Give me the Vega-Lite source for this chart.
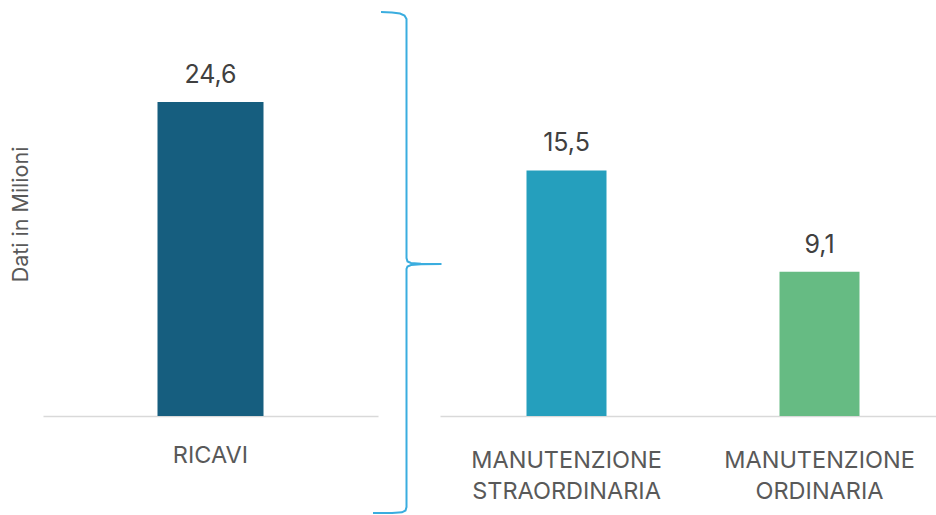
{
  "$schema": "https://vega.github.io/schema/vega-lite/v6.json",
  "padding": {"left": 10, "top": 8, "right": 0, "bottom": 0},
  "spacing": 0,
  "bounds": "flush",
  "config": {
    "view": {"stroke": null},
    "font": "Inter",
    "locale": {"number": {"decimal": ",", "thousands": ".", "grouping": [3], "currency": ["€", ""]}},
    "axis": {"domainColor": "#d9d9d9", "domainWidth": 1.5, "ticks": false, "grid": false, "labelColor": "#595959", "labelFont": "Inter", "labelFontSize": 23.5, "labelLimit": 400, "titleFont": "Inter", "titleFontWeight": "normal", "titleColor": "#595959"}
  },
  "hconcat": [
    {
      "width": 335,
      "height": 404,
      "data": {"values": [{"voce": "RICAVI", "valore": 24.6}]},
      "encoding": {
        "x": {"field": "voce", "type": "nominal", "axis": {"title": null, "labelAngle": 0, "labelPadding": 27, "labelBaseline": "top"}},
        "y": {"field": "valore", "type": "quantitative", "scale": {"domain": [0, 31.66], "nice": false}, "axis": {"title": "Dati in Milioni", "titleFontSize": 21.5, "titlePadding": 11, "labels": false, "domain": false}}
      },
      "layer": [
        {"mark": {"type": "bar", "size": 106, "color": "#165e7f"}},
        {"mark": {"type": "text", "baseline": "alphabetic", "dy": -19, "fontSize": 25, "color": "#404040"}, "encoding": {"text": {"field": "valore", "type": "quantitative", "format": ".1f"}}}
      ]
    },
    {
      "width": 62,
      "height": 501,
      "data": {"values": [
        {"i": 1, "x": 3, "y": 0},
        {"i": 2, "x": 14, "y": 0.5},
        {"i": 3, "x": 22, "y": 1.5},
        {"i": 4, "x": 26.5, "y": 3.5},
        {"i": 5, "x": 28.5, "y": 7},
        {"i": 6, "x": 28.5, "y": 246},
        {"i": 7, "x": 29.5, "y": 249.5},
        {"i": 8, "x": 33, "y": 251},
        {"i": 9, "x": 43, "y": 251.7},
        {"i": 10, "x": 63.5, "y": 252},
        {"i": 11, "x": 43, "y": 252.3},
        {"i": 12, "x": 33, "y": 253},
        {"i": 13, "x": 29.5, "y": 254.5},
        {"i": 14, "x": 28.5, "y": 257},
        {"i": 15, "x": 28.5, "y": 495},
        {"i": 16, "x": 27.5, "y": 498.5},
        {"i": 17, "x": 24, "y": 500.3},
        {"i": 18, "x": 14, "y": 501},
        {"i": 19, "x": -5, "y": 501}
      ]},
      "mark": {"type": "line", "color": "#3aaddf", "strokeWidth": 2, "clip": false},
      "encoding": {
        "x": {"field": "x", "type": "quantitative", "scale": {"domain": [0, 62], "nice": false, "zero": false}, "axis": null},
        "y": {"field": "y", "type": "quantitative", "scale": {"domain": [0, 501], "nice": false, "reverse": true}, "axis": null},
        "order": {"field": "i", "type": "quantitative"}
      }
    },
    {
      "width": 506,
      "height": 404,
      "data": {"values": [
        {"voce": "MANUTENZIONE STRAORDINARIA", "valore": 15.5},
        {"voce": "MANUTENZIONE ORDINARIA", "valore": 9.1}
      ]},
      "encoding": {
        "x": {"field": "voce", "type": "nominal", "sort": null, "axis": {"title": null, "labelAngle": 0, "labelPadding": 32, "labelBaseline": "top", "labelLineHeight": 31.5, "labelExpr": "split(datum.label, ' ')"}},
        "y": {"field": "valore", "type": "quantitative", "scale": {"domain": [0, 25.5], "nice": false}, "axis": null}
      },
      "layer": [
        {"mark": {"type": "bar", "size": 80}, "encoding": {"color": {"field": "voce", "type": "nominal", "scale": {"domain": ["MANUTENZIONE STRAORDINARIA", "MANUTENZIONE ORDINARIA"], "range": ["#259fbd", "#66bb83"]}, "legend": null}}},
        {"mark": {"type": "text", "baseline": "alphabetic", "dy": -19, "fontSize": 25, "color": "#404040"}, "encoding": {"text": {"field": "valore", "type": "quantitative", "format": ".1f"}}}
      ]
    }
  ]
}
